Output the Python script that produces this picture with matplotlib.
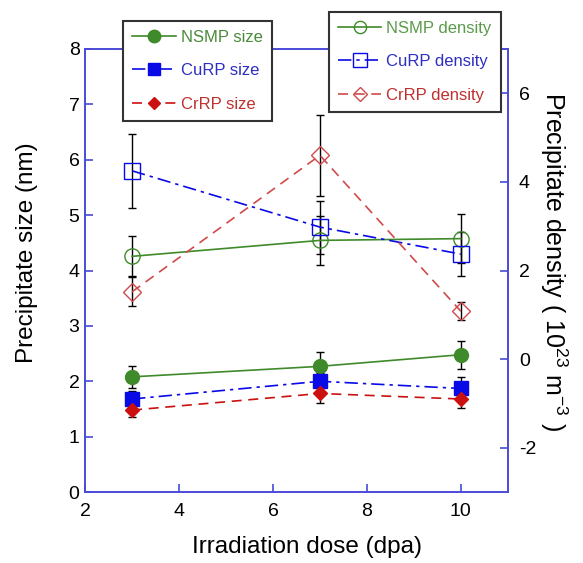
import matplotlib
matplotlib.use("Agg")
import matplotlib.pyplot as plt
from matplotlib.lines import Line2D

plt.rcParams['font.family'] = ['Liberation Sans', 'DejaVu Sans']
plt.rcParams['mathtext.default'] = 'regular'
plt.rcParams['axes.unicode_minus'] = False

dose = [3, 7, 10]

nsmp_size = [2.08, 2.27, 2.48]
nsmp_size_err = [0.2, 0.25, 0.25]
curp_size = [1.68, 2.0, 1.87]
curp_size_err = [0.15, 0.15, 0.2]
crrp_size = [1.48, 1.78, 1.68]
crrp_size_err = [0.13, 0.18, 0.16]

nsmp_dens = [2.32, 2.68, 2.72]
nsmp_dens_err = [0.45, 0.55, 0.55]
curp_dens = [4.25, 2.98, 2.37]
curp_dens_err = [0.84, 0.6, 0.5]
crrp_dens = [1.52, 4.6, 1.08]
crrp_dens_err = [0.33, 0.92, 0.2]

green = '#3f8a2a'
blue = '#0a0ae6'
red = '#cc1010'
red_l = '#d04a4a'
spine_c = '#4a4ad8'
dashdot = (0, (8, 3, 2, 3))
dashed = (0, (6, 4))

fig = plt.figure(figsize=(5.83, 5.63), dpi=100)
ax = fig.add_axes([0.146, 0.126, 0.725, 0.787])
ax2 = ax.twinx()

ekw = dict(ecolor='black', elinewidth=1.0, capsize=3, capthick=1.0)

styles_size = [
    (nsmp_size, nsmp_size_err, green, '-', 'o', 10, 'NSMP size'),
    (curp_size, curp_size_err, blue, dashdot, 's', 10, 'CuRP size'),
    (crrp_size, crrp_size_err, red, dashed, 'D', 7, 'CrRP size'),
]
styles_dens = [
    (nsmp_dens, nsmp_dens_err, green, '-', 'o', 11, 'NSMP density'),
    (curp_dens, curp_dens_err, blue, dashdot, 's', 12, 'CuRP density'),
    (crrp_dens, crrp_dens_err, red_l, dashed, 'D', 9, 'CrRP density'),
]

h1 = []
for y, e, c, ls, m, ms, lab in styles_size:
    ax.errorbar(dose, y, yerr=e, color=c, ls=ls, lw=1.2, marker=m, ms=ms, mfc=c, mec=c, **ekw)
    h1.append(Line2D([], [], color=c, ls=ls, lw=1.2, marker=m, ms=ms * 0.9, mfc=c, mec=c, label=lab))
h2 = []
for y, e, c, ls, m, ms, lab in styles_dens:
    ax2.errorbar(dose, y, yerr=e, color=c, ls=ls, lw=1.2, marker=m, ms=ms, mfc='none', mec=c, **ekw)
    h2.append(Line2D([], [], color=c, ls=ls, lw=1.2, marker=m, ms=ms * 0.8, mfc='none', mec=c, label=lab))

ax.set_xlim(2, 11)
ax.set_ylim(0, 8)
ax2.set_ylim(-3, 7)
ax.set_xticks([2, 4, 6, 8, 10])
ax.set_yticks(range(0, 9))
ax2.set_yticks([-2, 0, 2, 4, 6])

for a in (ax, ax2):
    for s in a.spines.values():
        s.set_color(spine_c)
        s.set_linewidth(1.2)
    a.tick_params(direction='in', length=6, width=1.2, color=spine_c, labelsize=14, labelcolor='black')
ax.tick_params(axis='y', pad=4)
ax.tick_params(axis='x', pad=8)
ax2.tick_params(pad=8)

ax.set_xlabel('Irradiation dose (dpa)', fontsize=17.5, labelpad=12)
ax.set_ylabel('Precipitate size (nm)', fontsize=17.5, labelpad=22)
ax2.set_ylabel('Precipitate density ( 10$^{23}$ m$^{-3}$ )', fontsize=18, rotation=270, labelpad=24)
ax.xaxis.set_label_coords(0.525, -0.10)
ax.yaxis.label.set_y(0.54)
ax2.yaxis.label.set_y(0.52)

leg_kw = dict(loc='upper left', fontsize=12, frameon=True, fancybox=False, borderaxespad=0,
              handlelength=2.6, labelspacing=1.1, handletextpad=0.3, borderpad=0.55)
leg1 = fig.legend(handles=h1, bbox_to_anchor=(0.211, 0.963), **leg_kw)
leg2 = fig.legend(handles=h2, bbox_to_anchor=(0.564, 0.979), **leg_kw)
for leg, cols in ((leg1, ['#4a8a3a', '#2e2ec0', '#c03030']), (leg2, ['#5a9a4a', '#2e2ec0', '#c03030'])):
    fr = leg.get_frame()
    fr.set_edgecolor('#333333')
    fr.set_linewidth(1.5)
    fr.set_facecolor('white')
    fr.set_alpha(1)
    for t, c in zip(leg.get_texts(), cols):
        t.set_color(c)

fig.savefig('out.png', dpi=100)
